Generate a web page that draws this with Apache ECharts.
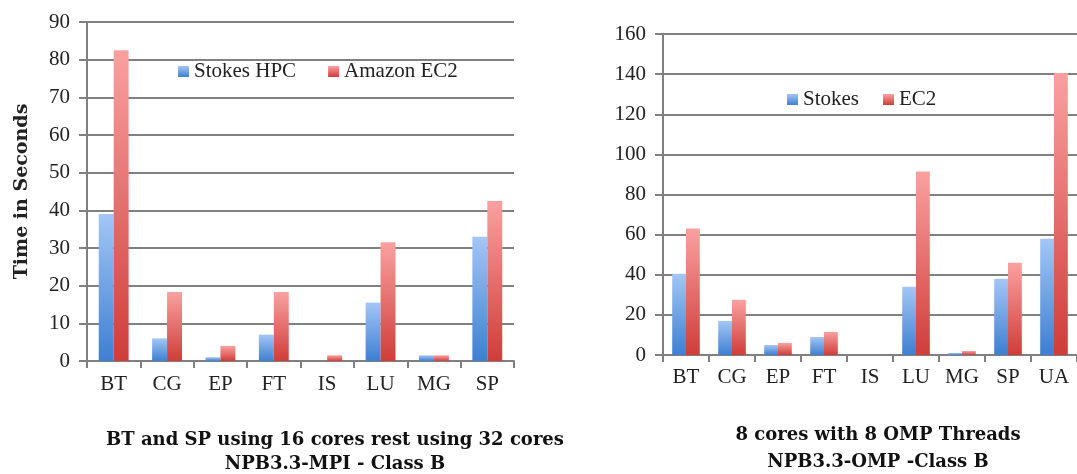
<!DOCTYPE html>
<html><head><meta charset="utf-8">
<script src="https://cdn.jsdelivr.net/npm/echarts@6/dist/echarts.min.js"></script>
<style>html,body{margin:0;padding:0;background:#fff}#c{width:1077px;height:474px}</style>
</head><body><div id="c"></div>
<script>
const mpiCategories = ['BT','CG','EP','FT','IS','LU','MG','SP'];
const mpiStokes = [39, 6, 1, 7, 0, 15.5, 1.5, 33];
const mpiEC2 = [82.5, 18.3, 4, 18.3, 1.5, 31.5, 1.5, 42.5];
const mpiTicks = [0,10,20,30,40,50,60,70,80,90];

const ompCategories = ['BT','CG','EP','FT','IS','LU','MG','SP','UA'];
const ompStokes = [40.5, 17, 5, 9, 0, 34, 1, 38, 58];
const ompEC2 = [63, 27.5, 6, 11.5, 0, 91.5, 2, 46, 140.5];
const ompTicks = [0,20,40,60,80,100,120,140,160];

const FONT = '"Liberation Serif", "DejaVu Serif", serif';
const BFONT = '"DejaVu Serif", "Liberation Serif", serif';
const blueGrad = new echarts.graphic.LinearGradient(0,0,0,1,[{offset:0,color:'#a3c6f6'},{offset:1,color:'#3d7fd2'}]);
const redGrad = new echarts.graphic.LinearGradient(0,0,0,1,[{offset:0,color:'#f9a1a0'},{offset:1,color:'#cf3d39'}]);

function xAx(idx, cats, margin){
  return {type:'category', gridIndex: idx, data: cats,
    axisLine:{lineStyle:{color:'#808080', width:2}},
    axisTick:{show:true, length:7, lineStyle:{color:'#808080', width:2}},
    axisLabel:{color:'#222', fontFamily:FONT, fontSize:21, margin:margin}};
}
function yAx(idx, max, interval){
  return {type:'value', gridIndex: idx, min:0, max:max, interval:interval,
    axisLine:{show:true, lineStyle:{color:'#808080', width:2}},
    axisTick:{show:true, length:8, lineStyle:{color:'#808080', width:2}},
    splitLine:{lineStyle:{color:'#808080', width:2}},
    axisLabel:{color:'#222', fontFamily:FONT, fontSize:21, margin:17}};
}
const chart = echarts.init(document.getElementById('c'));
chart.setOption({
  animation:false,
  grid:[
    {left:87, top:22, width:427, height:339},
    {left:663, top:34, width:420, height:321}
  ],
  xAxis:[xAx(0, mpiCategories, 13), xAx(1, ompCategories, 12)],
  yAxis:[
    Object.assign(yAx(0, 90, 10), {name:'Time in Seconds', nameLocation:'middle', nameGap:55,
      nameTextStyle:{fontFamily:BFONT, fontWeight:'bold', fontSize:19, color:'#222'}}),
    yAx(1, 160, 20)
  ],
  legend:[
    {data:['Stokes HPC','Amazon EC2'], left:173, top:56, itemWidth:11, itemHeight:11, itemGap:32, icon:'rect',
      textStyle:{fontFamily:FONT, fontSize:21, color:'#222'}},
    {data:['Stokes','EC2'], left:782, top:84, itemWidth:11, itemHeight:11, itemGap:24, icon:'rect',
      textStyle:{fontFamily:FONT, fontSize:21, color:'#222'}}
  ],
  title:[
    {text:'BT and SP using 16 cores rest using 32 cores\nNPB3.3-MPI - Class B', left:330, top:423, textAlign:'center',
      textStyle:{fontFamily:BFONT, fontWeight:'bold', fontSize:18, color:'#111', lineHeight:24, align:'center'}},
    {text:'8 cores with 8 OMP Threads\nNPB3.3-OMP -Class B', left:873, top:417, textAlign:'center',
      textStyle:{fontFamily:BFONT, fontWeight:'bold', fontSize:18, color:'#111', lineHeight:27, align:'center'}}
  ],
  series:[
    {name:'Stokes HPC', type:'bar', xAxisIndex:0, yAxisIndex:0, data:mpiStokes, barGap:'0%', barCategoryGap:'44%', itemStyle:{color:blueGrad}},
    {name:'Amazon EC2', type:'bar', xAxisIndex:0, yAxisIndex:0, data:mpiEC2, barGap:'0%', barCategoryGap:'44%', itemStyle:{color:redGrad}},
    {name:'Stokes', type:'bar', xAxisIndex:1, yAxisIndex:1, data:ompStokes, barGap:'0%', barCategoryGap:'40%', itemStyle:{color:blueGrad}},
    {name:'EC2', type:'bar', xAxisIndex:1, yAxisIndex:1, data:ompEC2, barGap:'0%', barCategoryGap:'40%', itemStyle:{color:redGrad}}
  ]
});
</script></body></html>
